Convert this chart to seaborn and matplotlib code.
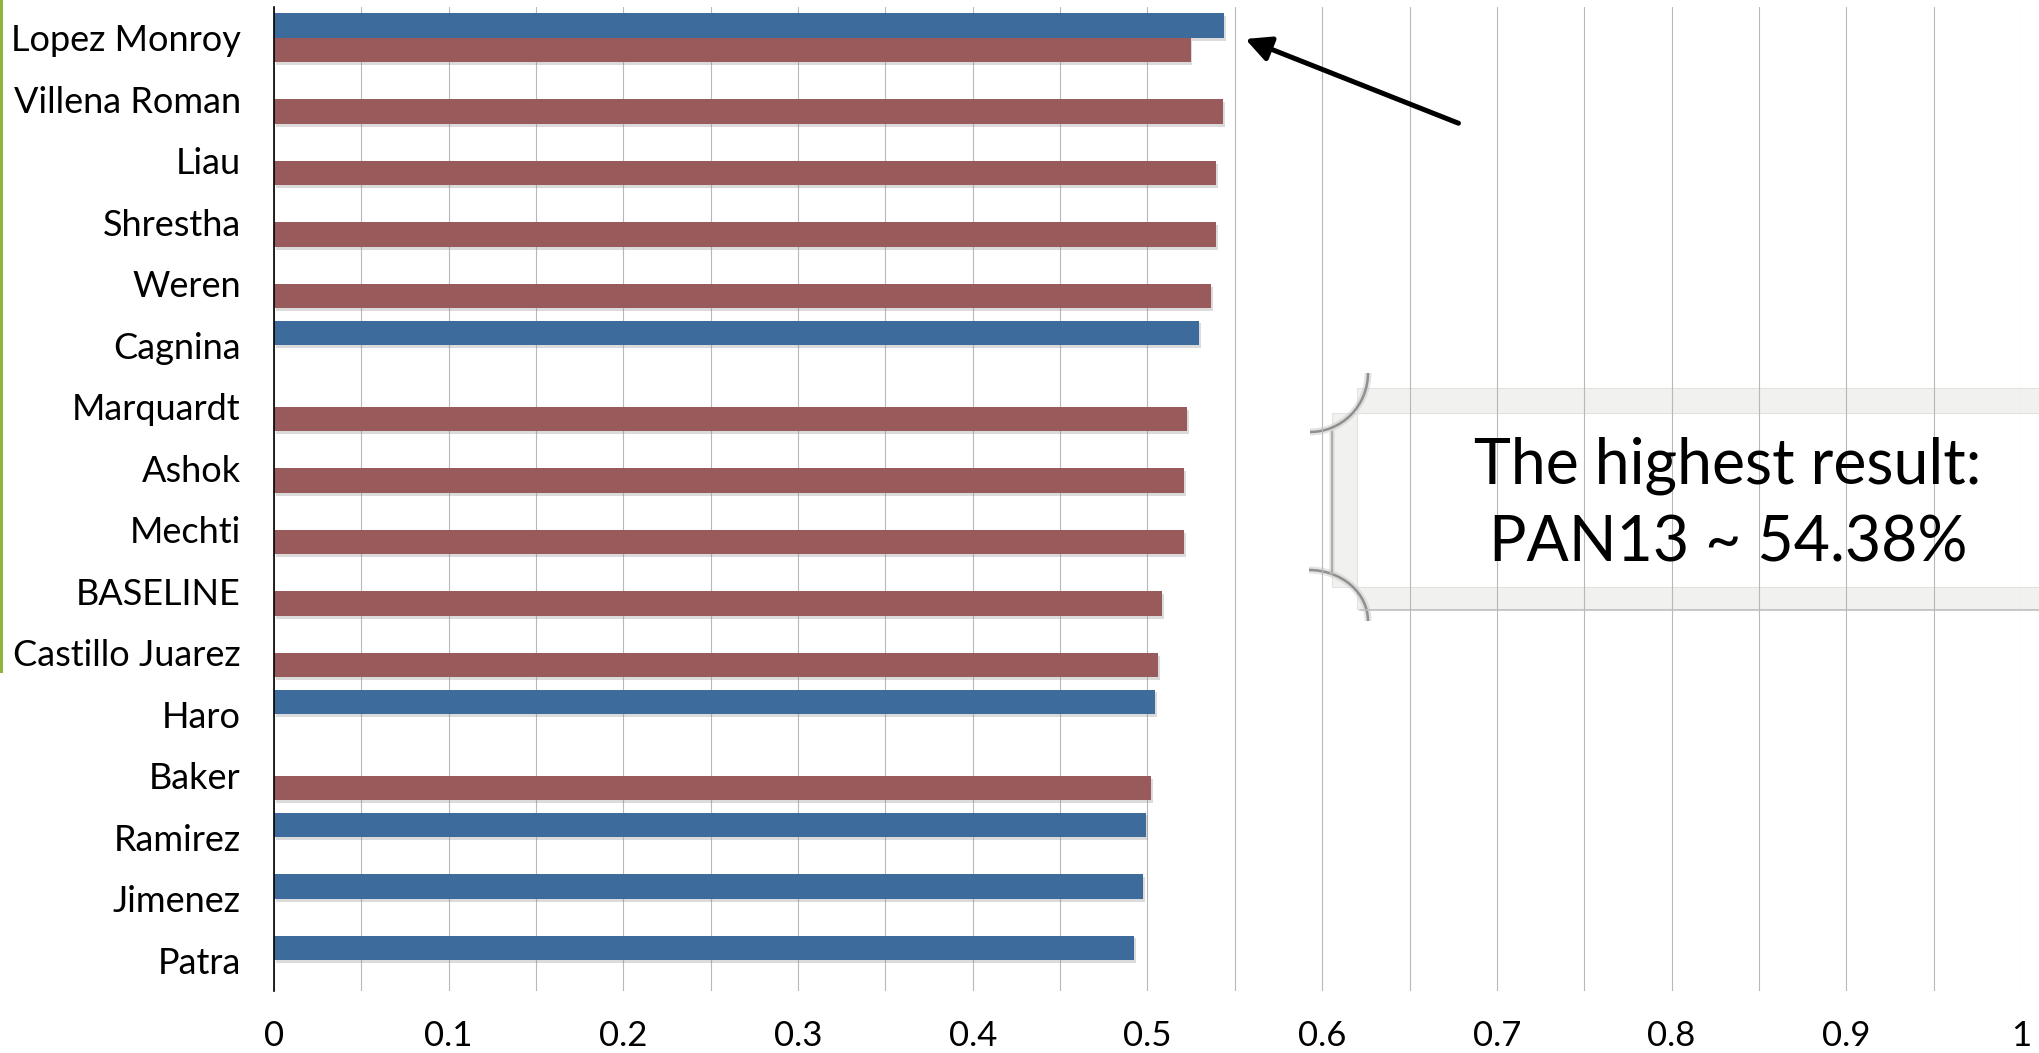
import matplotlib
matplotlib.use("Agg")
import matplotlib.pyplot as plt
import matplotlib.patheffects as pe
from matplotlib.patches import Rectangle, Arc
import numpy as np
import pandas as pd
import seaborn as sns

# ---- data -------------------------------------------------------------
teams = ["Lopez Monroy", "Villena Roman", "Liau", "Shrestha", "Weren",
         "Cagnina", "Marquardt", "Ashok", "Mechti", "BASELINE",
         "Castillo Juarez", "Haro", "Baker", "Ramirez", "Jimenez", "Patra"]
# accuracy of the two runs (NaN = no result for that team)
pan13 = [0.5438, np.nan, np.nan, np.nan, np.nan,
         0.5294, np.nan, np.nan, np.nan, np.nan,
         np.nan, 0.5043, np.nan, 0.4991, 0.4974, 0.4923]
other = [0.5248, 0.5432, 0.5392, 0.5392, 0.5366,
         np.nan, 0.5226, 0.5209, 0.5209, 0.5083,
         0.5060, np.nan, 0.5020, np.nan, np.nan, np.nan]
series_names = ["PAN13", "Other"]
x_ticks = [0, 0.1, 0.2, 0.3, 0.4, 0.5, 0.6, 0.7, 0.8, 0.9, 1]
x_tick_labels = ["0", "0.1", "0.2", "0.3", "0.4", "0.5", "0.6", "0.7", "0.8", "0.9", "1"]
best_label = ["The highest result:", "PAN13 ~ 54.38%"]

df = pd.DataFrame({
    "team": teams * 2,
    "score": pan13 + other,
    "run": [series_names[0]] * len(teams) + [series_names[1]] * len(teams),
}).dropna()

# ---- figure -----------------------------------------------------------
W, H = 2040, 1053
sns.set_theme(style="white")
plt.rcParams["font.family"] = ["Lato", "DejaVu Sans"]

fig = plt.figure(figsize=(W / 100, H / 100), dpi=100)
fig.patch.set_facecolor("white")
ax = fig.add_axes([274 / W, (H - 991) / H, (2021 - 274) / W, 984 / H])
ax.set_facecolor("white")


def P(x, y):
    """pixel position (from top-left) -> figure fraction"""
    return (x / W, 1 - y / H)


blue = "#3C6B9C"
red = "#985A5A"
sns.barplot(data=df, y="team", x="score", hue="run", order=teams,
            hue_order=series_names, palette=[blue, red], orient="h",
            width=0.8, dodge=True, saturation=1, legend=False, ax=ax,
            linewidth=0, zorder=3)

shadow = [pe.SimplePatchShadow(offset=(1.2, -2.0), shadow_rgbFace="#8a8a8a", alpha=0.3),
          pe.Normal()]
for bar in ax.patches:
    bar.set_path_effects(shadow)

ax.set_xlim(0, 1)
ax.set_ylim(len(teams) - 0.5, -0.5)
ax.set_xlabel("")
ax.set_ylabel("")

# vertical grid every 0.05
ax.set_xticks(x_ticks)
ax.set_xticklabels(x_tick_labels)
ax.set_xticks(np.arange(0.05, 1.0, 0.1), minor=True)
ax.grid(axis="x", which="both", color="#b8b8b8", linewidth=0.8)
ax.grid(axis="y", visible=False)
ax.set_axisbelow(True)

for s in ["top", "right", "bottom"]:
    ax.spines[s].set_visible(False)
ax.spines["left"].set_color("black")
ax.spines["left"].set_linewidth(1.2)
ax.spines["left"].set_zorder(4)

ax.tick_params(axis="y", length=0, pad=24, labelsize=26, labelcolor="black")
ax.tick_params(axis="x", which="both", length=0, pad=21, labelsize=25, labelcolor="black")

# arrow pointing at the best bar
ax.annotate("", xy=(0.556, 0.02), xytext=(0.678, 1.39),
            arrowprops=dict(arrowstyle="-|>", color="black", lw=3.6,
                            mutation_scale=38, shrinkA=0, shrinkB=0),
            zorder=6)

# banner behind the callout text
band = "#f1f1ef"
edge = "#e2e2de"
tf = fig.transFigure
for (x0, y0, x1, y1) in [(1357, 388, 2040, 413), (1357, 587, 2040, 609), (1332, 413, 1357, 587)]:
    ax.add_patch(Rectangle(P(x0, y1), (x1 - x0) / W, (y1 - y0) / H, transform=tf,
                           facecolor=band, edgecolor=edge, linewidth=0.8,
                           clip_on=False, zorder=0.2))
soft = [pe.Stroke(linewidth=5, foreground="#c8c8c8", alpha=0.5), pe.Normal()]
ax.add_patch(Arc(P(1310, 373), 116 / W, 118 / H, theta1=270, theta2=360, transform=tf,
                 color="#8f8f8f", lw=1.8, clip_on=False, zorder=0.3, path_effects=soft))
ax.add_patch(Arc(P(1309, 621), 118 / W, 102 / H, theta1=0, theta2=90, transform=tf,
                 color="#8f8f8f", lw=1.8, clip_on=False, zorder=0.3, path_effects=soft))
# soft shadows along the left and bottom edges of the banner
fig.lines.append(plt.Line2D([1332 / W, 1332 / W], [1 - 432 / H, 1 - 572 / H], transform=tf,
                            color="#9a9a9a", lw=1.6, alpha=0.7,
                            path_effects=[pe.Stroke(linewidth=4, foreground="#cfcfcf", alpha=0.5),
                                          pe.Normal()]))
fig.lines.append(plt.Line2D([1360 / W, 1.0], [1 - 610 / H, 1 - 610 / H], transform=tf,
                            color="#bdbdbd", lw=1.4, alpha=0.8))

fig.text(*P(1728, 483), best_label[0], ha="center", va="baseline", fontsize=45, color="black")
fig.text(*P(1728, 562), best_label[1], ha="center", va="baseline", fontsize=45, color="black")

# green accent strip on the left edge
fig.patches.append(Rectangle((0, 1 - 673 / H), 3.5 / W, 673 / H, transform=tf,
                             facecolor="#8db53e", edgecolor="none"))

fig.savefig("out.png", dpi=100, facecolor="white")
